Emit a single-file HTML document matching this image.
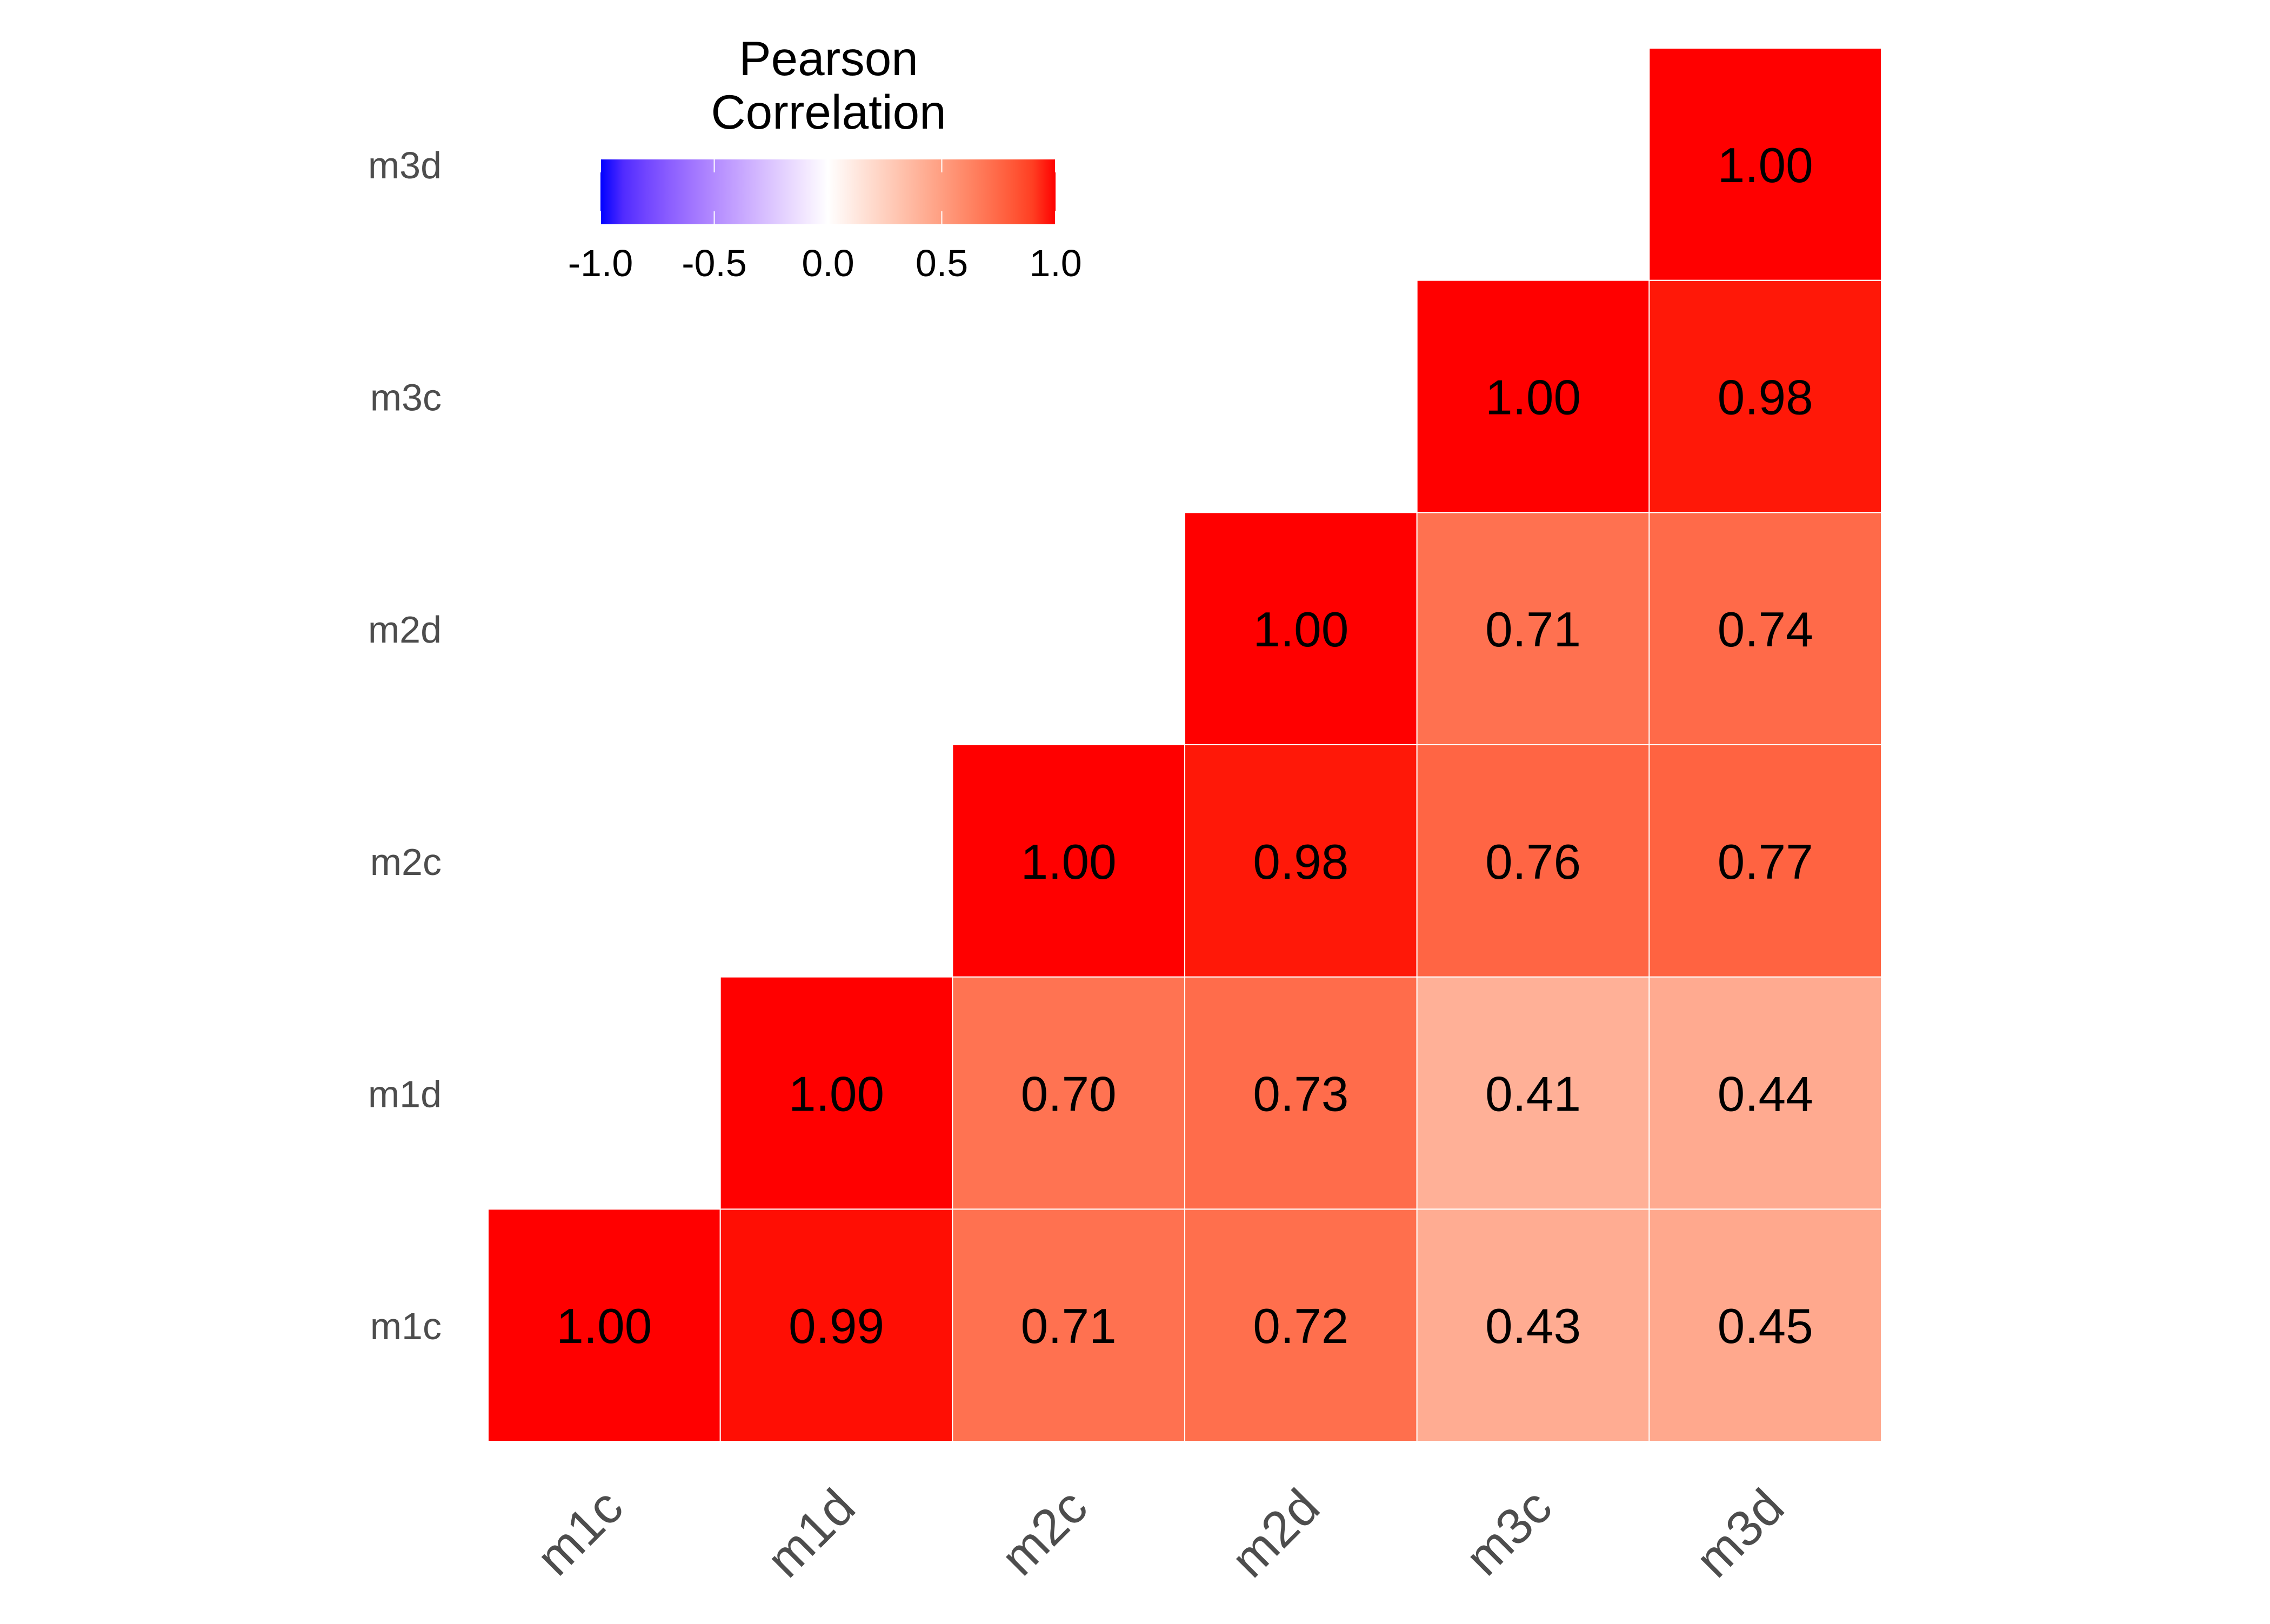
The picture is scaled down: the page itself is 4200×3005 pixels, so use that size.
<!DOCTYPE html>
<html><head><meta charset="utf-8"><style>html,body{margin:0;padding:0;background:#fff}</style></head>
<body>
<svg id="c" width="4200" height="3000" xmlns="http://www.w3.org/2000/svg" font-family="Liberation Sans, sans-serif"></svg>
<script>
const vars=["m1c","m1d","m2c","m2d","m3c","m3d"];
const rowM1c=[1.00,0.99,0.71,0.72,0.43,0.45];
const rowM1d=[null,1.00,0.70,0.73,0.41,0.44];
const rowM2c=[null,null,1.00,0.98,0.76,0.77];
const rowM2d=[null,null,null,1.00,0.71,0.74];
const rowM3c=[null,null,null,null,1.00,0.98];
const rowM3d=[null,null,null,null,null,1.00];
const legendTicks=[-1.0,-0.5,0.0,0.5,1.0];
const rows=[rowM1c,rowM1d,rowM2c,rowM2d,rowM3c,rowM3d];
const NS="http://www.w3.org/2000/svg";
const svg=document.getElementById('c');
const X0=903,X1=3481,Y0=89,Y1=2667;
const cw=(X1-X0)/vars.length, ch=(Y1-Y0)/vars.length;
const xPos=i=>X0+i*cw, yPos=j=>Y1-(j+1)*ch;
function mk(t,a){const e=document.createElementNS(NS,t);for(const k in a)e.setAttribute(k,a[k]);svg.appendChild(e);return e;}
function lab2rgb(L,a,b){let y=(L+16)/116,x=a/500+y,z=y-b/200;const f=t=>t*t*t>0.008856?t*t*t:(t-16/116)/7.787;
x=0.95047*f(x);y=f(y);z=1.08883*f(z);
let r=x*3.2406+y*-1.5372+z*-0.4986,g=x*-0.9689+y*1.8758+z*0.0415,bb=x*0.0557+y*-0.2040+z*1.0570;
const c=v=>{v=v>0.0031308?1.055*Math.pow(v,1/2.4)-0.055:12.92*v;return Math.round(Math.max(0,Math.min(1,v))*255);};
return `rgb(${c(r)},${c(g)},${c(bb)})`;}
function col(v){const W=[100,0,0],R=[53.24,80.09,67.20],B=[32.30,79.19,-107.86];const T=v>=0?R:B;const t=Math.abs(v);
return lab2rgb(W[0]+(T[0]-W[0])*t,W[1]+(T[1]-W[1])*t,W[2]+(T[2]-W[2])*t);}
rows.forEach((r,j)=>r.forEach((v,i)=>{if(v===null)return;
 const e=mk('rect',{x:xPos(i),y:yPos(j),width:cw,height:ch,fill:col(v),stroke:'#fff','stroke-width':2});
 
 
 const t=mk('text',{x:xPos(i)+cw/2,y:yPos(j)+ch/2+33,'text-anchor':'middle','font-size':91,fill:'#000'});
 t.textContent=v.toFixed(2);
 
 
}));
vars.forEach((n,j)=>{const t=mk('text',{x:817,y:yPos(j)+ch/2+26,'text-anchor':'end','font-size':70,fill:'#4d4d4d'});t.textContent=n;
 
 });
vars.forEach((n,i)=>{const cx=xPos(i)+cw/2+40,cy=2795;const t=mk('text',{x:cx,y:cy,'text-anchor':'end','font-size':94,fill:'#4d4d4d',transform:`rotate(-45 ${cx} ${cy})`});t.textContent=n;
 
 });
const LX0=1111,LX1=1953,LY0=295,LY1=415;
const defs=mk('defs',{});const g=document.createElementNS(NS,'linearGradient');g.setAttribute('id','lg');defs.appendChild(g);
for(let k=0;k<=20;k++){const v=-1+k/10;const s=document.createElementNS(NS,'stop');s.setAttribute('offset',(k/20*100)+'%');s.setAttribute('stop-color',col(v));g.appendChild(s);}
const bar=mk('rect',{x:LX0,y:LY0,width:LX1-LX0,height:LY1-LY0,fill:'url(#lg)'});


const lx=v=>LX0+(v+1)/2*(LX1-LX0);
legendTicks.forEach(v=>{const x=lx(v);
 mk('line',{x1:x,x2:x,y1:LY0,y2:LY0+24,stroke:'#fff','stroke-width':2});
 mk('line',{x1:x,x2:x,y1:LY1-24,y2:LY1,stroke:'#fff','stroke-width':2});
 const t=mk('text',{x:x,y:511,'text-anchor':'middle','font-size':70,fill:'#000'});t.textContent=v.toFixed(1);
 
 });
const t1=mk('text',{x:1533,y:139,'text-anchor':'middle','font-size':89,fill:'#000'});t1.textContent='Pearson';


const t2=mk('text',{x:1533,y:238,'text-anchor':'middle','font-size':89,fill:'#000'});t2.textContent='Correlation';


</script>
</body></html>
